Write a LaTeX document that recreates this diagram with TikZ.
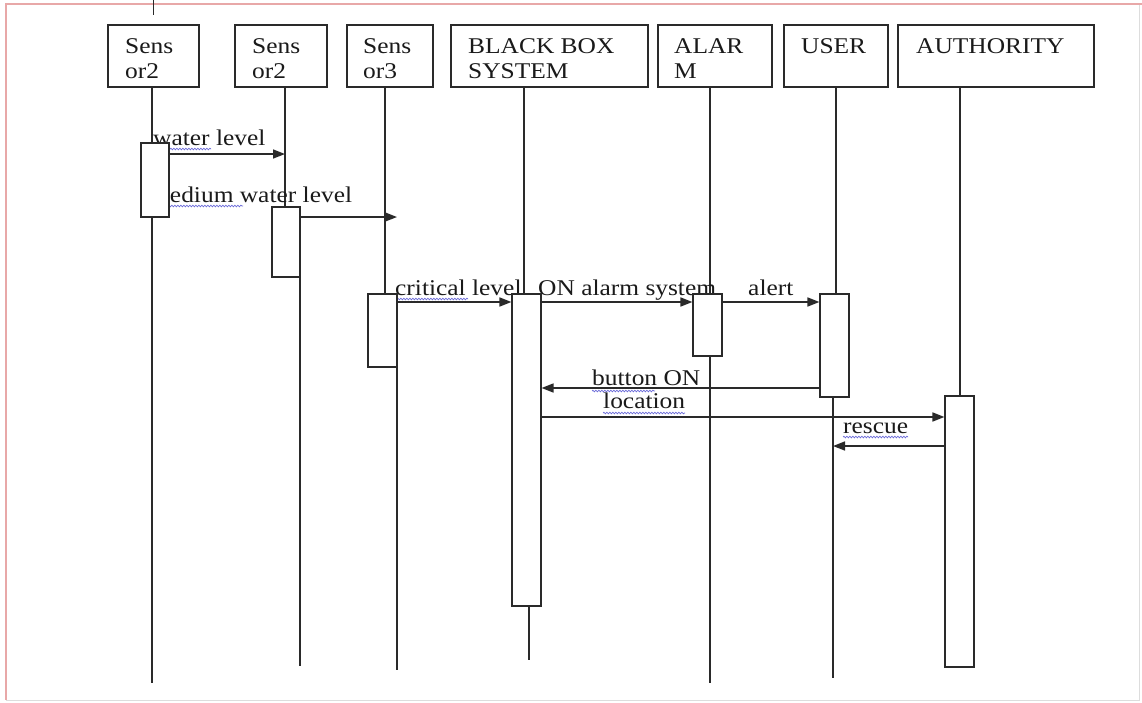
\documentclass[tikz,border=0pt]{standalone}
\usepackage{fontspec}
\setmainfont{Liberation Serif}[FakeStretch=1.13]
\usetikzlibrary{arrows.meta,decorations.pathmorphing}
\definecolor{ink}{HTML}{1A1A1A}
\definecolor{edge}{HTML}{2A2A2A}
\definecolor{framepink}{HTML}{E8A8A8}
\definecolor{framegray}{HTML}{DDDDDD}
\definecolor{squig}{HTML}{6A6AD8}
\tikzset{
  pbox/.style={draw=edge, line width=1.7pt, anchor=north west, minimum height=62pt, inner sep=0pt},
  ptext/.style={anchor=base west, align=left, inner sep=0pt, text=ink, font=\fontsize{22.5}{25}\selectfont},
  lbl/.style={anchor=base west, inner sep=0pt, text=ink, font=\fontsize{22.5}{25}\selectfont},
  life/.style={draw=edge, line width=1.6pt},
  act/.style={draw=edge, fill=white, line width=1.6pt, minimum width=28.5pt, inner sep=0pt},
  msg/.style={draw=edge, line width=1.6pt, -{Triangle[length=12pt,width=9pt]}},
  spell/.style={draw=squig, line width=0.7pt, decorate, decoration={snake, segment length=3pt, amplitude=0.8pt}},
}
\begin{document}
\begin{tikzpicture}[x=1pt,y=-1pt]
\useasboundingbox (0,0) rectangle (1142,702);
% frame
\draw[framegray, line width=1pt] (1139,4) -- (1139,700) -- (6,700);
\draw[framepink, line width=1.2pt] (6,700) -- (6,4) -- (1142,4);
\coordinate (tickA) at (153,0);
\coordinate (tickB) at (153,15);
\draw[edge, line width=1pt] (tickA) -- (tickB);

% participants
\node[pbox, minimum width=91pt]  (s1) at (107,24) {};
\node[pbox, minimum width=92pt]  (s2) at (234,24) {};
\node[pbox, minimum width=86pt]  (s3) at (346,24) {};
\node[pbox, minimum width=197pt] (bb) at (450,24) {};
\node[pbox, minimum width=114pt] (al) at (657,24) {};
\node[pbox, minimum width=104pt] (us) at (783,24) {};
\node[pbox, minimum width=196pt] (au) at (897,24) {};
\node[ptext] (s1t) at (125,78) {Sens\\or2};
\node[ptext] (s2t) at (252,78) {Sens\\or2};
\node[ptext] (s3t) at (363,78) {Sens\\or3};
\node[ptext] (bbt) at (468,78) {BLACK BOX\\SYSTEM};
\node[ptext] (alt) at (674,78) {ALAR\\M};
\node[ptext] (ust) at (801,53) {USER};
\node[ptext] (aut) at (916,53) {AUTHORITY};

% lifeline coordinates
\coordinate (l1a) at (152,86);  \coordinate (l1b) at (152,683);
\coordinate (l2a) at (285,86);  \coordinate (l2b) at (285,210);
\coordinate (l2c) at (300,277); \coordinate (l2d) at (300,666);
\coordinate (l3a) at (385,86);  \coordinate (l3b) at (385,296);
\coordinate (l3c) at (397,367); \coordinate (l3d) at (397,670);
\coordinate (lba) at (524,86);  \coordinate (lbb) at (524,296);
\coordinate (lbc) at (529,606); \coordinate (lbd) at (529,660);
\coordinate (laa) at (710,86);  \coordinate (lab) at (710,683);
\coordinate (lua) at (836,86);  \coordinate (lub) at (836,296);
\coordinate (luc) at (833,397); \coordinate (lud) at (833,678);
\coordinate (lxa) at (960,86);  \coordinate (lxb) at (960,398);
\draw[life] (l1a) -- (l1b);
\draw[life] (l2a) -- (l2b);
\draw[life] (l2c) -- (l2d);
\draw[life] (l3a) -- (l3b);
\draw[life] (l3c) -- (l3d);
\draw[life] (lba) -- (lbb);
\draw[life] (lbc) -- (lbd);
\draw[life] (laa) -- (lab);
\draw[life] (lua) -- (lub);
\draw[life] (luc) -- (lud);
\draw[life] (lxa) -- (lxb);

% message labels
\node[lbl] (t1) at (153,145) {water level};
\node[lbl] (t2) at (150,202) {medium water level};
\node[lbl] (t3) at (395,295) {critical level};
\node[lbl] (t4) at (538,295) {ON alarm system};
\node[lbl] (t5) at (748,295) {alert};
\node[lbl] (t6) at (592,385) {button ON};
\node[lbl] (t7) at (603,408) {location};
\node[lbl] (t8) at (843,433) {rescue};
% spell-check squiggles
\coordinate (w1a) at (155,149); \coordinate (w1b) at (211,149);
\coordinate (w2a) at (150,206); \coordinate (w2b) at (243,206);
\coordinate (w3a) at (397,299); \coordinate (w3b) at (468,299);
\coordinate (w6a) at (592,391); \coordinate (w6b) at (655,391);
\coordinate (w7a) at (603,413); \coordinate (w7b) at (685,413);
\coordinate (w8a) at (843,437); \coordinate (w8b) at (908,437);
\draw[spell] (w1a) -- (w1b);
\draw[spell] (w2a) -- (w2b);
\draw[spell] (w3a) -- (w3b);
\draw[spell] (w6a) -- (w6b);
\draw[spell] (w7a) -- (w7b);
\draw[spell] (w8a) -- (w8b);

% activations
\node[act, minimum height=74pt]  (a1)  at (155,180) {};
\node[act, minimum height=70pt]  (a2)  at (286,242) {};
\node[act, minimum height=73pt]  (a3)  at (382.5,330.5) {};
\node[act, minimum height=312pt] (abb) at (526.5,450) {};
\node[act, minimum height=62pt]  (aal) at (707.5,325) {};
\node[act, minimum height=103pt] (aus) at (834.5,345.5) {};
\node[act, minimum height=271pt] (aau) at (959.5,531.5) {};

% messages
\coordinate (y1) at (0,154);
\coordinate (y2) at (0,217);
\coordinate (y3) at (0,302);
\coordinate (y6) at (0,388);
\coordinate (y7) at (0,417);
\coordinate (y8) at (0,446);
\draw[msg] (a1.east |- y1) -- (l2a |- y1);
\draw[msg] (a2.east |- y2) -- (l3c |- y2);
\draw[msg] (a3.east |- y3) -- (abb.west |- y3);
\draw[msg] (abb.east |- y3) -- (aal.west |- y3);
\draw[msg] (aal.east |- y3) -- (aus.west |- y3);
\draw[msg] (aus.west |- y6) -- (abb.east |- y6);
\draw[msg] (abb.east |- y7) -- (aau.west |- y7);
\draw[msg] (aau.west |- y8) -- (luc |- y8);
\end{tikzpicture}
\end{document}
